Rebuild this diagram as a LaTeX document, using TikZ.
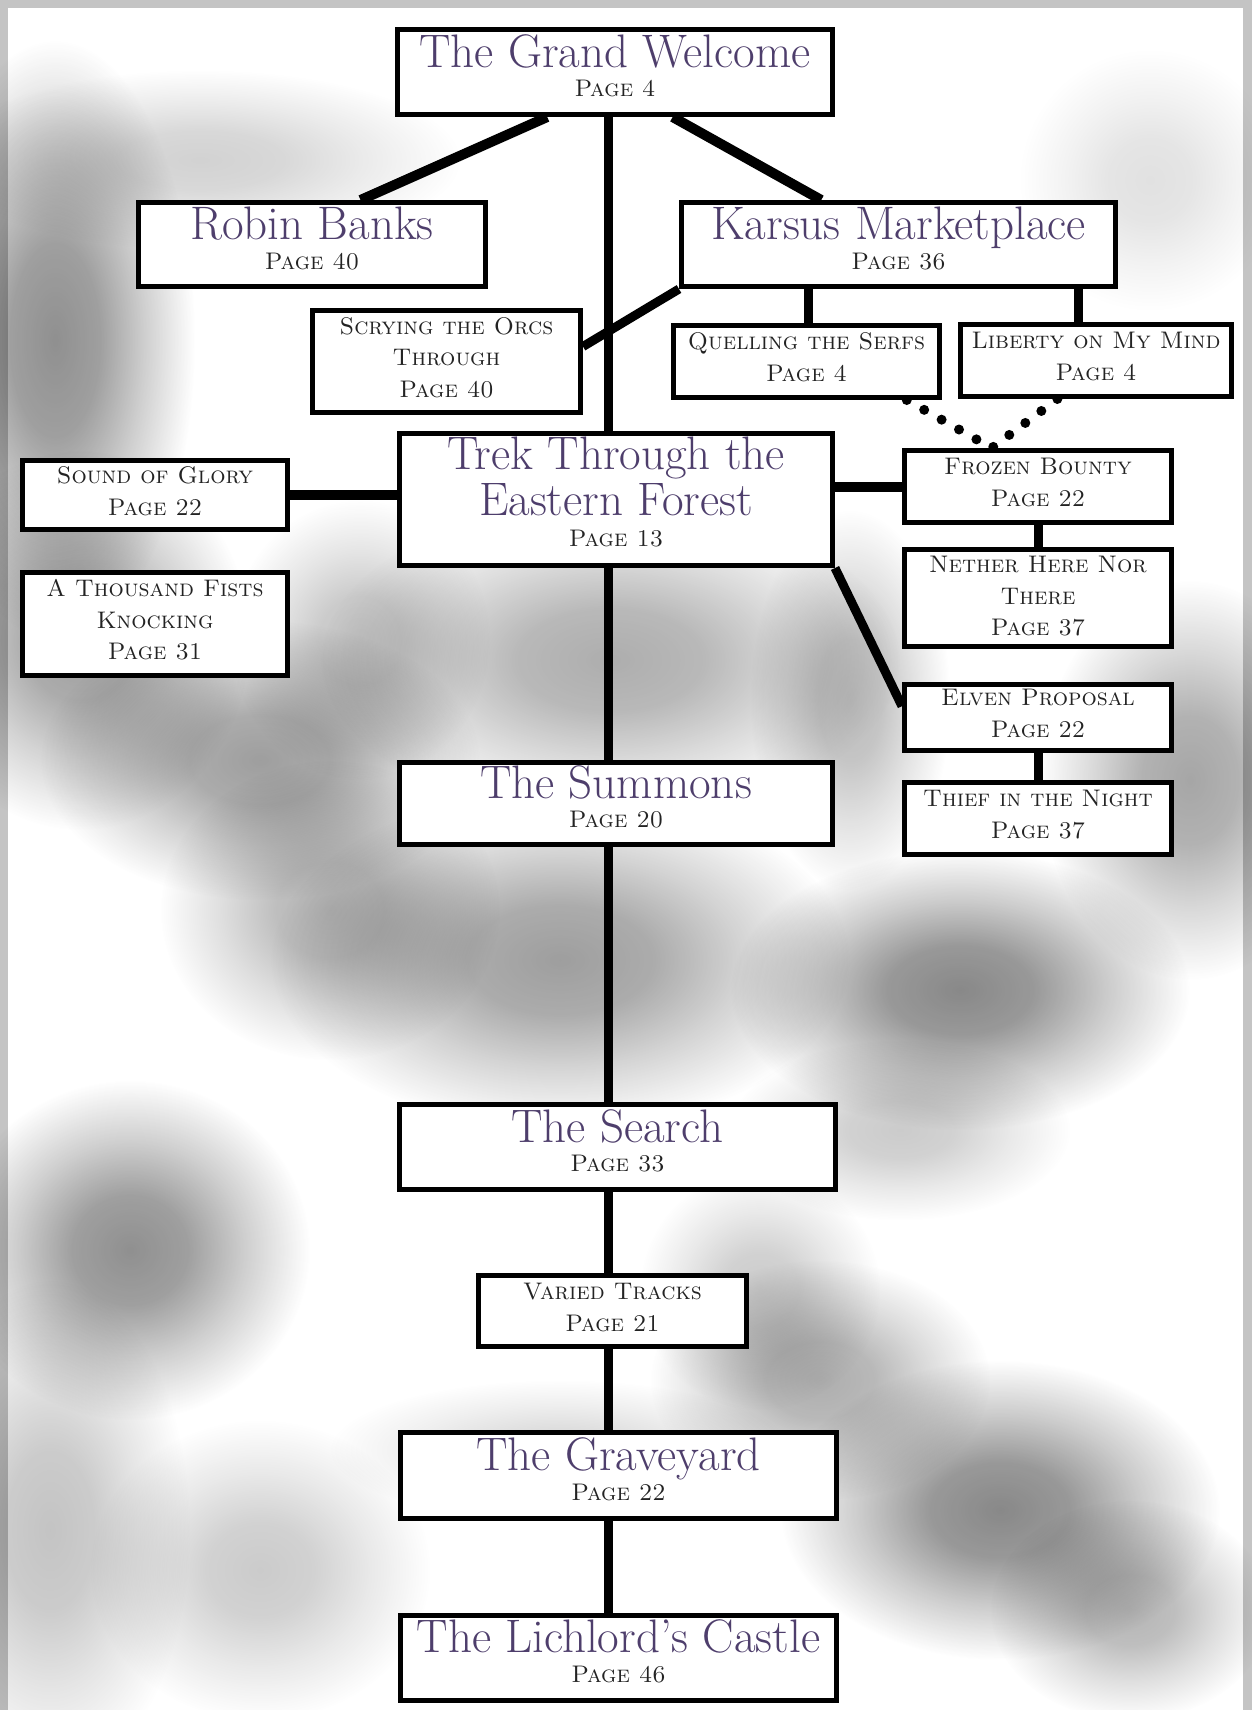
\documentclass[tikz,border=0pt]{standalone}
\usetikzlibrary{calc}
\definecolor{titlec}{RGB}{78,62,108}
\definecolor{pagec}{RGB}{35,35,35}
\definecolor{framec}{RGB}{196,196,196}
\pgfdeclarelayer{bglayer}
\pgfdeclarelayer{linelayer}
\pgfsetlayers{bglayer,linelayer,main}
\pgfdeclareradialshading{blobshade}{\pgfpointorigin}{color(0bp)=(black!58); color(8bp)=(black!50); color(16bp)=(black!25); color(25bp)=(white); color(50bp)=(white)}
\tikzset{
  box/.style={draw=black, line width=2.5pt, fill=white, inner sep=0pt, align=center,
    font=\fontsize{12}{15.8}\selectfont\scshape, text=pagec},
  conn/.style={line width=4.5pt, draw=black},
  thickconn/.style={line width=5pt, draw=black},
  dotconn/.style={line width=5pt, draw=black, line cap=round, dash pattern=on 0pt off 10pt},
  blobfill/.style={shading=blobshade, blend mode=multiply},
}
\newcommand\ttl[1]{{\normalfont\color{titlec}\fontsize{23.5}{24}\selectfont #1}}
\newcommand\lowdp[1]{\rule[-#1pt]{0pt}{0pt}}
\newcommand\mkbox[6]{%
  \pgfmathsetmacro\bxcx{(#2+#4)/2}%
  \pgfmathsetmacro\bxcy{(#3+#5)/2}%
  \pgfmathsetmacro\bxw{(#4-#2-5)/2}%
  \pgfmathsetmacro\bxh{(#5-#3-5)/2}%
  \node[box, minimum width=\bxw pt, minimum height=\bxh pt] (#1) at (\bxcx,\bxcy) {#6};}
\newcommand\blob[5]{\shade[blobfill, opacity=#5] (#1,#2) ellipse ({#3} and {#4});}
\begin{document}
\begin{tikzpicture}[x=0.5pt,y=-0.5pt]
\useasboundingbox (0,0) rectangle (1252,1710);
\begin{pgfonlayer}{bglayer}
  \fill[framec] (0,0) rectangle (1252,1710);
  \fill[white] (8,8) rectangle (1243,1710);
  \blob{55}{340}{140}{300}{0.75}
  \blob{80}{640}{170}{190}{0.65}
  \blob{200}{160}{260}{90}{0.3}
  \blob{260}{760}{220}{140}{0.65}
  \blob{360}{640}{130}{140}{0.4}
  \blob{330}{910}{170}{150}{0.5}
  \blob{610}{660}{290}{160}{0.55}
  \blob{560}{960}{290}{170}{0.65}
  \blob{960}{990}{230}{140}{0.8}
  \blob{1190}{780}{150}{200}{0.6}
  \blob{850}{700}{100}{190}{0.45}
  \blob{130}{1250}{180}{170}{0.75}
  \blob{50}{1530}{140}{250}{0.4}
  \blob{1000}{1510}{220}{150}{0.8}
  \blob{820}{1380}{170}{120}{0.55}
  \blob{1130}{1610}{140}{110}{0.5}
  \blob{900}{1130}{170}{90}{0.35}
  \blob{760}{1290}{120}{120}{0.35}
  \blob{560}{1450}{230}{70}{0.25}
  \blob{260}{1570}{170}{150}{0.35}
  \blob{1150}{180}{130}{130}{0.2}
\end{pgfonlayer}

\mkbox{gw}{395}{27}{835}{117}{\ttl{The Grand Welcome}\\[-1pt]Page 4\lowdp{6.4}}
\mkbox{rb}{136}{200}{488}{289}{\ttl{Robin Banks}\\[-1pt]Page 40\lowdp{6.4}}
\mkbox{km}{679}{200}{1118}{289}{\ttl{Karsus Marketplace}\\[-1pt]Page 36\lowdp{6.4}}
\mkbox{sc}{310}{308}{583}{415}{Scrying the Orcs\\Through\\Page 40\lowdp{4}}
\mkbox{qs}{671}{323}{942}{400}{Quelling the Serfs\\Page 4\lowdp{4.4}}
\mkbox{lm}{958}{322}{1234}{399}{Liberty on My Mind\\Page 4\lowdp{4.4}}
\mkbox{trek}{397}{431}{835}{568}{\ttl{Trek Through the}\\[1pt]\ttl{Eastern Forest}\\Page 13\lowdp{7.6}}
\mkbox{sg}{20}{458}{290}{532}{Sound of Glory\\Page 22\lowdp{4}}
\mkbox{tf}{20}{570}{290}{678}{A Thousand Fists\\Knocking\\Page 31\lowdp{4.4}}
\mkbox{fb}{902}{448}{1174}{525}{Frozen Bounty\\Page 22\lowdp{4}}
\mkbox{nh}{902}{547}{1174}{649}{Nether Here Nor\\There\\Page 37\lowdp{2}}
\mkbox{ep}{902}{682}{1174}{753}{Elven Proposal\\Page 22\lowdp{4}}
\mkbox{tn}{902}{780}{1174}{857}{Thief in the Night\\Page 37\lowdp{4.4}}
\mkbox{su}{397}{760}{835}{847}{\ttl{The Summons}\\[-1pt]Page 20\lowdp{7}}
\mkbox{se}{397}{1102}{838}{1192}{\ttl{The Search}\\[-1pt]Page 33\lowdp{6.4}}
\mkbox{vt}{476}{1273}{749}{1349}{Varied Tracks\\Page 21\lowdp{4}}
\mkbox{gy}{398}{1430}{839}{1521}{\ttl{The Graveyard}\\[-1pt]Page 22\lowdp{6.4}}
\mkbox{lc}{398}{1613}{839}{1703}{\ttl{The Lichlord's Castle}\\[-1pt]Page 46\lowdp{6.8}}

\coordinate (tx) at (608,0);

\begin{pgfonlayer}{linelayer}
  % trunk
  \draw[conn] (gw.south -| tx) -- (trek.north -| tx);
  \draw[conn] (trek.south -| tx) -- (su.north -| tx);
  \draw[conn] (su.south -| tx) -- (se.north -| tx);
  \draw[conn] (se.south -| tx) -- (vt.north -| tx);
  \draw[conn] (vt.south -| tx) -- (gy.north -| tx);
  \draw[conn] (gy.south -| tx) -- (lc.north -| tx);
  % upper branches
  \draw[thickconn] ($(gw.south west)!0.346!(gw.south east)$) -- ($(rb.north west)!0.638!(rb.north east)$);
  \draw[thickconn] ($(gw.south west)!0.631!(gw.south east)$) -- ($(km.north west)!0.324!(km.north east)$);
  \draw[conn] (km.south west) -- ($(sc.north east)!0.36!(sc.south east)$);
  \draw[conn] (qs.north -| 808,0) -- (km.south -| 808,0);
  \draw[conn] (lm.north -| 1078,0) -- (km.south -| 1078,0);
  % dotted links
  \draw[dotconn] ($(qs.south west)!0.87!(qs.south east)$) -- ($(fb.north west)!0.33!(fb.north east)$);
  \draw[dotconn] ($(lm.south west)!0.36!(lm.south east)$) -- ($(fb.north west)!0.33!(fb.north east)$);
  % trek branches
  \draw[thickconn] (sg.east) -- (sg.east -| trek.west);
  \draw[conn] ($(sg.south)+(-8,0)$) -- ($(sg.south)+(-8,0)$ |- tf.north);
  \draw[thickconn] (fb.west) -- (fb.west -| trek.east);
  \draw[conn] (fb.south) -- (nh.north);
  \draw[conn] (trek.south east) -- ($(ep.north west)!0.34!(ep.south west)$);
  \draw[conn] (ep.south) -- (tn.north);
\end{pgfonlayer}
\end{tikzpicture}
\end{document}
